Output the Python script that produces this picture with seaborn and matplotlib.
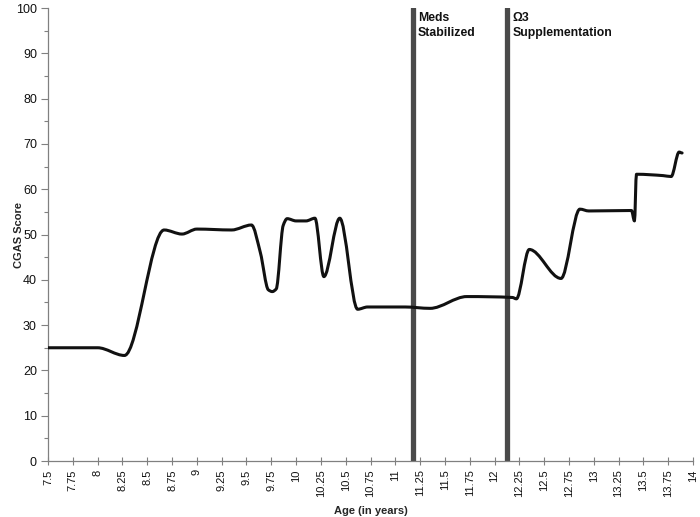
import numpy as np
import pandas as pd
import matplotlib
matplotlib.use("Agg")
import matplotlib.pyplot as plt
from matplotlib.path import Path
from matplotlib.patches import PathPatch
import seaborn as sns

# ---- data ----
age = [7.5, 8.0, 8.27, 8.67, 8.85, 9.0, 9.35, 9.55, 9.64, 9.72, 9.76, 9.80,
       9.87, 9.91, 10.0, 10.1, 10.19, 10.28, 10.44, 10.62, 10.72, 11.1, 11.35,
       11.72, 12.18, 12.22, 12.35, 12.67, 12.86, 12.95, 13.38, 13.41, 13.43,
       13.7, 13.78, 13.86, 13.89]
cgas = [25, 25, 23.3, 51, 50.1, 51.2, 51, 52.1, 46, 37.8, 37.4, 38,
        52, 53.5, 53, 53, 53.6, 40.7, 53.6, 33.5, 34, 34, 33.7,
        36.3, 36.1, 35.8, 46.7, 40.3, 55.6, 55.2, 55.3, 53, 63.3,
        63, 62.8, 68.2, 68.0]
events_x = [11.18, 12.13]
events_label = ["Meds\nStabilized", "\u03a93\nSupplementation"]
xticks = [7.5 + 0.25 * i for i in range(27)]
yticks = list(range(0, 101, 10))

sns.set_style("ticks")
plt.rcParams['font.family'] = ['Liberation Sans', 'DejaVu Sans']

fig = plt.figure(figsize=(7.0, 5.17), dpi=100)
ax = fig.add_axes([0.0686, 0.1083, 0.9214, 0.8762])

# event lines via seaborn
for ex in events_x:
    sns.lineplot(x=[ex, ex], y=[0, 100], color="#4a4a4a", lw=3.8, ax=ax,
                 estimator=None, sort=False)

# smoothed score line (cubic Bezier path through the data points)
x = np.asarray(age, float)
y = np.asarray(cgas, float)
h = np.diff(x)
d = np.diff(y) / h
m = np.zeros_like(x)
for i in range(1, len(x) - 1):
    if d[i - 1] * d[i] > 0:
        w1 = 2 * h[i] + h[i - 1]
        w2 = h[i] + 2 * h[i - 1]
        m[i] = (w1 + w2) / (w1 / d[i - 1] + w2 / d[i])
verts = [(x[0], y[0])]
codes = [Path.MOVETO]
for i in range(len(x) - 1):
    verts += [(x[i] + h[i] / 3, y[i] + m[i] * h[i] / 3),
              (x[i + 1] - h[i] / 3, y[i + 1] - m[i + 1] * h[i] / 3),
              (x[i + 1], y[i + 1])]
    codes += [Path.CURVE4] * 3
ax.add_patch(PathPatch(Path(verts, codes), facecolor="none", edgecolor="#111111",
                       lw=2.2, capstyle="round", joinstyle="round", zorder=3))

for ex, lab in zip(events_x, events_label):
    ax.annotate(lab, xy=(ex, 100), xytext=(3.5, -3), textcoords="offset points",
                ha="left", va="top", fontsize=8.8, fontweight="bold", color="#111111",
                linespacing=1.3)

ax.set_xlim(7.5, 14)
ax.set_ylim(0, 100)
ax.set_xticks(xticks)
ax.set_xticklabels([f"{t:g}" for t in xticks], rotation=90, fontsize=8, color="#111111")
ax.set_yticks(yticks)
ax.set_yticklabels([str(t) for t in yticks], fontsize=9, color="#111111")
ax.set_yticks(list(range(5, 100, 10)), minor=True)
ax.tick_params(axis="x", direction="inout", length=6, width=0.8, color="#808080", pad=3)
ax.tick_params(axis="y", which="major", direction="out", length=5, width=0.8, color="#808080", pad=3)
ax.tick_params(axis="y", which="minor", direction="out", length=3, width=0.8, color="#808080")
sns.despine(ax=ax)
for s in ("left", "bottom"):
    ax.spines[s].set_color("#808080")
    ax.spines[s].set_linewidth(0.9)
ax.set_xlabel("Age (in years)", fontsize=8, fontweight="bold", labelpad=6)
ax.set_ylabel("CGAS Score", fontsize=8, fontweight="bold")
ax.yaxis.set_label_coords(-0.037, 0.5)

fig.savefig("out.png", dpi=100)
